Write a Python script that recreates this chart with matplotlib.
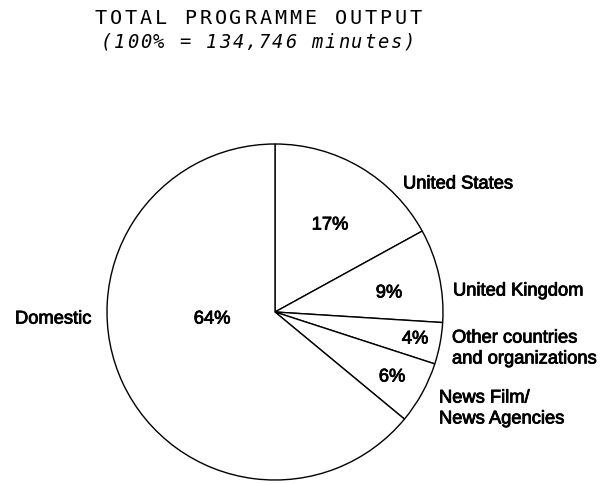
import matplotlib
matplotlib.use("Agg")
import matplotlib.pyplot as plt
import matplotlib.patheffects as pe

# Programme output shares by origin (percent of 134,746 minutes)
categories = ["United States", "United Kingdom", "Other countries\nand organizations",
              "News Film/\nNews Agencies", "Domestic"]
shares = [17, 9, 4, 6, 64]
pct_labels = ["17%", "9%", "4%", "6%", "64%"]
title_lines = ["TOTAL PROGRAMME OUTPUT", "(100% = 134,746 minutes)"]

W, H = 601, 485
fig = plt.figure(figsize=(W / 100, H / 100), dpi=100)
ax = fig.add_axes([0, 0, 1, 1])

cx, cy, r = 275, H - 313, 168
ax.pie(shares, startangle=90, counterclock=False, center=(cx, cy), radius=r,
       colors=["white"] * len(shares),
       wedgeprops=dict(edgecolor="black", linewidth=1.0))
ax.set_xlim(0, W)
ax.set_ylim(0, H)
ax.set_aspect("equal")
ax.axis("off")

heavy = [pe.withStroke(linewidth=0.6, foreground="black")]
lab_font = dict(family="Liberation Sans", fontsize=13.2, color="black", path_effects=heavy)

# percentage labels inside slices
pct_pos = [(330, 226), (389, 294), (415, 340), (392, 378), (212, 320)]
for t, (x, y) in zip(pct_labels, pct_pos):
    ax.text(x, H - y, t, ha="center", va="center", **lab_font)

# category labels outside the pie
cat_pos = [(403, 185), (453, 292), (452, 349.5), (439, 409.5), (15, 320)]
for t, (x, y) in zip(categories, cat_pos):
    ax.text(x, H - y, t, ha="left", va="center", linespacing=1.3, **lab_font)

# typewriter-style heading, set on a fixed character pitch
def typeset(line, x0, y, pitch, **kw):
    for i, ch in enumerate(line):
        if ch != " ":
            ax.text(x0 + i * pitch, H - y, ch, ha="center", va="center",
                    family="DejaVu Sans Mono", **kw)

typeset(title_lines[0], 100.5, 18, 15.0, fontsize=14.5)
typeset(title_lines[1], 106, 42, 13.2, fontsize=13.5, style="italic")

fig.savefig("out.png", dpi=100)
